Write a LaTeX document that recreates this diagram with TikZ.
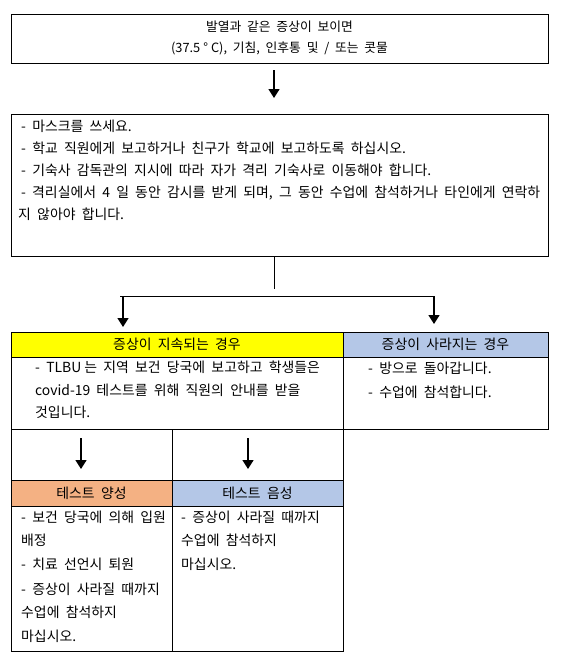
\documentclass[tikz,border=0pt]{standalone}
\usepackage{fontspec}
\setmainfont{Noto Sans CJK KR}[WordSpace=2.0]
\usetikzlibrary{arrows.meta,calc}
\definecolor{hyellow}{HTML}{FFFF00}
\definecolor{hblue}{HTML}{B4C7E7}
\definecolor{horange}{HTML}{F4B183}
\begin{document}
\begin{tikzpicture}[x=1pt,y=-1pt,
  font=\fontsize{13.9}{16}\selectfont,
  cell/.style={draw, line width=0.9pt, anchor=north west, inner sep=0pt, outer sep=0pt},
  txt/.style={anchor=west, inner sep=0pt, text height=10pt, text depth=1pt},
  ctxt/.style={anchor=center, inner sep=0pt, text height=9.5pt, text depth=1pt},
  arr/.style={line width=1.5pt, -{Triangle[width=11pt,length=9pt]}},
  link/.style={line width=0.9pt}]
\useasboundingbox (0,0) rectangle (562,670);
% top box
\node[cell, minimum width=537pt, minimum height=49pt] (top) at (11,14) {};
\node[ctxt, font=\fontsize{12.8}{14}\selectfont] (top1) at (279.5,27) {발열과 같은 증상이 보이면};
\node[ctxt, font=\fontsize{12.8}{14}\selectfont] (top2) at (279.5,48) {(37.5\hspace{3pt}°\hspace{3pt}C), 기침, 인후통 및 / 또는 콧물};
% arrow 1
\coordinate (a1s) at (274,70);
\coordinate (a1e) at (274,98);
\draw[arr] (a1s) -- (a1e);
% second box
\node[cell, minimum width=537pt, minimum height=142pt] (box2) at (11,114) {};
\node[txt] (b1) at (21,127) {- 마스크를 쓰세요.};
\node[txt] (b2) at (21,149) {- 학교 직원에게 보고하거나 친구가 학교에 보고하도록 하십시오.};
\node[txt] (b3) at (21,171) {- 기숙사 감독관의 지시에 따라 자가 격리 기숙사로 이동해야 합니다.};
\node[txt] (b4) at (21,193) {\makebox[519pt][s]{- 격리실에서 4 일 동안 감시를 받게 되며, 그 동안 수업에 참석하거나 타인에게 연락하}};
\node[txt] (b5) at (18,215) {지 않아야 합니다.};
% branch
\coordinate (v1) at (274,289);
\coordinate (hL) at (120,296);
\coordinate (hR) at (434,296);
\coordinate (aL) at (123,296);
\coordinate (aLe) at (123,327);
\coordinate (aRe) at (434,324);
\draw[link] (box2.south -| v1) -- (v1);
\draw[link] (hL) -- (hR);
\draw[arr] (aL) -- (aLe);
\draw[arr] (hR) -- (aRe);
% upper table
\node[cell, fill=hyellow, minimum width=332pt, minimum height=25pt] (hY) at (11,332) {증상이 지속되는 경우};
\node[cell, fill=hblue, minimum width=205pt, minimum height=25pt] (hB) at (343,332) {증상이 사라지는 경우};
\node[cell, minimum width=332pt, minimum height=72pt] (cL) at (11,357) {};
\node[cell, minimum width=205pt, minimum height=72pt] (cR) at (343,357) {};
\node[txt] (l1) at (35,368) {- TLBU\hspace{3pt}는 지역 보건 당국에 보고하고 학생들은};
\node[txt] (l2) at (35,391) {covid-19 테스트를 위해 직원의 안내를 받을};
\node[txt] (l3) at (35,413) {것입니다.};
\node[txt] (r1) at (368,369) {- 방으로 돌아갑니다.};
\node[txt] (r2) at (368,393) {- 수업에 참석합니다.};
% lower table
\node[cell, minimum width=161pt, minimum height=51pt] (aLc) at (11,429) {};
\node[cell, minimum width=171pt, minimum height=51pt] (aRc) at (172,429) {};
\coordinate (p1s) at (81,438);
\coordinate (p1e) at (81,469);
\coordinate (p2s) at (248,438);
\coordinate (p2e) at (248,469);
\draw[arr] (p1s) -- (p1e);
\draw[arr] (p2s) -- (p2e);
\node[cell, fill=horange, minimum width=161pt, minimum height=26pt] (hP) at (11,480) {테스트 양성};
\node[cell, fill=hblue, minimum width=171pt, minimum height=26pt] (hN) at (172,480) {테스트 음성};
\node[cell, minimum width=161pt, minimum height=145pt] (cP) at (11,506) {};
\node[cell, minimum width=171pt, minimum height=145pt] (cN) at (172,506) {};
\node[txt] (pp1) at (21,518) {- 보건 당국에 의해 입원};
\node[txt] (pp2) at (21,541) {배정};
\node[txt] (pp3) at (21,565) {- 치료 선언시 퇴원};
\node[txt] (pp4) at (21,590) {- 증상이 사라질 때까지};
\node[txt] (pp5) at (21,613) {수업에 참석하지};
\node[txt] (pp6) at (21,637) {마십시오.};
\node[txt] (nn1) at (181,518) {- 증상이 사라질 때까지};
\node[txt] (nn2) at (181,541) {수업에 참석하지};
\node[txt] (nn3) at (181,565) {마십시오.};
\end{tikzpicture}
\end{document}
